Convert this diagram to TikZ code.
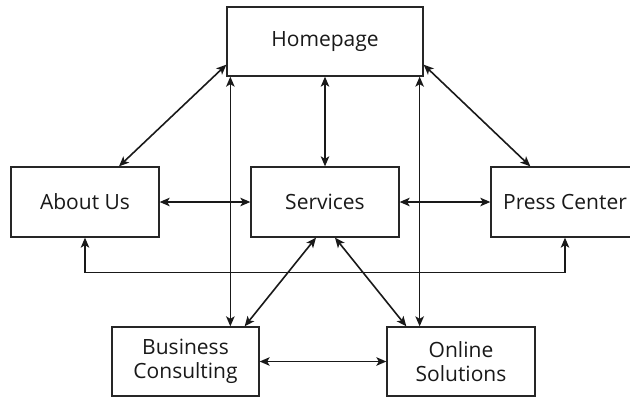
\documentclass[tikz,border=0pt]{standalone}
\usepackage{fontspec}
\setmainfont{Open Sans}
\usetikzlibrary{arrows.meta}
\tikzset{
  page/.style={draw=black!85, line width=1.3pt, fill=white, minimum width=148pt,
    minimum height=70pt, inner sep=0pt, align=center,
    font=\fontsize{21}{23.5}\selectfont, text=black!90},
  link/.style={<->, line width=1.6pt, draw=black!90,
    >={Stealth[length=10pt,width=8.5pt,inset=2.5pt]}},
}
\begin{document}
\begin{tikzpicture}[x=1pt,y=-1pt]
  \useasboundingbox (0,0) rectangle (630,397);
  \clip (0,0) rectangle (630,397);
  % pages
  \node[page, minimum width=196pt, minimum height=69pt] (home) at (325,41.5) {Homepage};
  \node[page] (about) at (85,202) {About Us};
  \node[page] (serv) at (325,202) {Services};
  \node[page] (press) at (565,202) {Press Center};
  \node[page, minimum width=147pt, minimum height=69pt] (busi) at (185.5,361.5) {Business\\Consulting};
  \node[page, minimum height=69pt] (onl) at (461,361.5) {Online\\Solutions};
  % links from the homepage
  \draw[link] ([yshift=12pt]home.south west) -- ([xshift=34pt]about.north);
  \draw[link] ([yshift=12pt]home.south east) -- ([xshift=40pt]press.north west);
  \draw[link] (home.south) -- (serv.north);
  \draw[link] ([xshift=4pt]home.south west) -- ([xshift=4pt]home.south west |- busi.north);
  \draw[link] ([xshift=-4pt]home.south east) -- ([xshift=-4pt]home.south east |- onl.north);
  % links between pages
  \draw[link] (about.east) -- (serv.west);
  \draw[link] (serv.east) -- (press.west);
  \draw[link] (about.south) -- ++(0,35) -| (press.south);
  \draw[link] ([xshift=-9pt]serv.south) -- ([xshift=-15pt]busi.north east);
  \draw[link] ([xshift=10pt]serv.south) -- ([xshift=20pt]onl.north west);
  \draw[link] (busi.east) -- (onl.west);
\end{tikzpicture}
\end{document}
